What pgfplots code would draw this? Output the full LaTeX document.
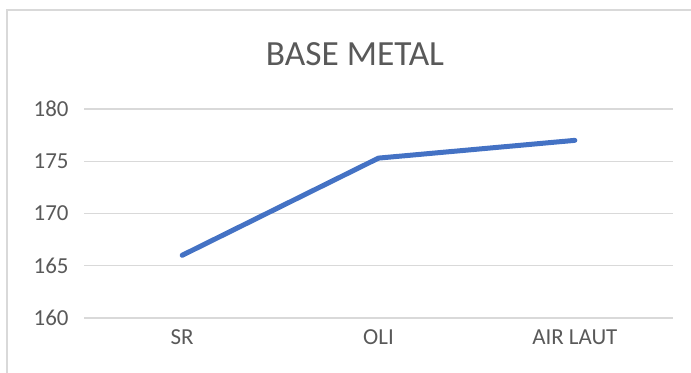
\documentclass[border=0pt]{standalone}
\usepackage{fontspec}
\setmainfont{Carlito}
\usepackage{pgfplots}
\pgfplotsset{compat=1.18}
\definecolor{txt}{HTML}{595959}
\definecolor{grd}{HTML}{D9D9D9}
\definecolor{ser}{HTML}{4472C4}
\begin{document}
\begin{tikzpicture}
\path[use as bounding box] (0,0) rectangle (691bp,373bp);
\draw[grd, line width=1.5bp] (7bp,0) -- (7bp,363bp) -- (691bp,363bp);
\node[txt, font=\fontsize{35.5}{40}\selectfont] at (355bp,318.5bp) {BASE METAL};
\begin{axis}[
  at={(84bp,55bp)}, anchor=south west,
  width=589bp, height=209bp, scale only axis,
  xmin=-0.5, xmax=2.5, ymin=160, ymax=180,
  xtick={0,1,2}, xticklabels={SR,OLI,AIR LAUT},
  ytick={160,165,170,175,180},
  axis line style={draw=none},
  major tick length=0pt,
  ymajorgrids, grid style={grd, line width=1.2bp},
  tick label style={txt, font=\fontsize{23}{26}\selectfont},
  /pgf/number format/assume math mode=true,
  xticklabel style={yshift=-8bp},
  yticklabel style={xshift=-12bp},
  clip=false,
]
\addplot[ser, line width=5bp, line cap=round, line join=round] coordinates {(0,166) (1,175.3) (2,177)};
\end{axis}
\end{tikzpicture}
\end{document}
